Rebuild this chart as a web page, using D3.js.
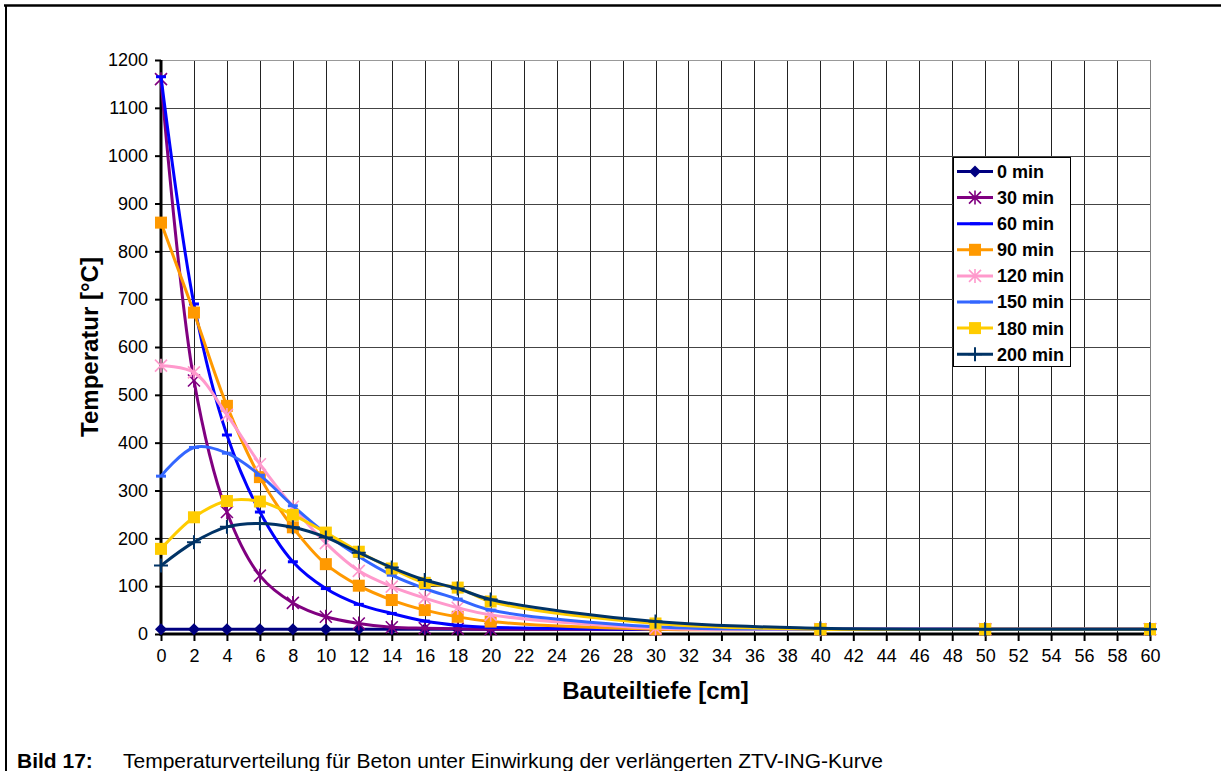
<!DOCTYPE html>
<html><head><meta charset="utf-8">
<script src="https://cdn.jsdelivr.net/npm/d3@7"></script>
<style>
body{margin:0;background:#fff;}
svg{display:block;font-family:Arial,"Liberation Sans",sans-serif;}
</style></head>
<body><svg id="c" width="1221" height="771"></svg>
<script>
const depths = [0,2,4,6,8,10,12,14,16,18,20,30,40,50,60];
const xTicks = d3.range(0,61,2);
const yTicks = d3.range(0,1201,100);
const seriesNames = ["0 min","30 min","60 min","90 min","120 min","150 min","180 min","200 min"];
const t0   = [10,10,10,10,10,10,10,10,10,10,10,10,10,10,10];
const t30  = [1160,530,255,122,65,36,22,14,12,11,10,10,10,10,10];
const t60  = [1165,690,416,255,151,95,62,43,27,18,14,10,10,10,10];
const t90  = [860,672,477,328,223,146,101,71,50,36,26,10,10,10,10];
const t120 = [561,547,458,355,266,190,132,99,75,55,40,12,10,10,10];
const t150 = [330,390,378,332,268,210,162,123,95,73,50,15,10,10,10];
const t180 = [178,244,278,277,249,212,172,137,107,97,68,22,10,10,10];
const t200 = [143,192,224,231,223,202,170,139,113,95,72,26,12,10,10];
const seriesValues = [t0,t30,t60,t90,t120,t150,t180,t200];
const colors = ["#000080","#800080","#0000FF","#FF9900","#FF99CC","#3366FF","#FFCC00","#003366"];
const markers = ["diamond","star","dash","square","star","dash","square","plus"];
const xTitle = "Bauteiltiefe [cm]";
const yTitle = "Temperatur [°C]";
const captionBold = "Bild 17:";
const captionText = "Temperaturverteilung für Beton unter Einwirkung der verlängerten ZTV-ING-Kurve";

const svg = d3.select("#c");
const L=161, R=1150, T=60, B=634;
const x = d3.scaleLinear().domain([0,60]).range([L,R]);
const y = d3.scaleLinear().domain([0,1200]).range([B,T]);

// outer frame
svg.append("line").attr("x1",4).attr("x2",1221).attr("y1",5.5).attr("y2",5.5).attr("stroke","#000").attr("stroke-width",2.5);
svg.append("line").attr("x1",6).attr("x2",6).attr("y1",5).attr("y2",771).attr("stroke","#000").attr("stroke-width",2);

// gridlines
const g = svg.append("g");
g.selectAll(".vg").data(xTicks.slice(1)).join("line")
  .attr("x1",d=>Math.round(x(d))+0.5).attr("x2",d=>Math.round(x(d))+0.5).attr("y1",T).attr("y2",B)
  .attr("stroke",(d)=>d===60?"#808080":"#222").attr("stroke-width",1);
g.selectAll(".hg").data(yTicks.slice(1)).join("line")
  .attr("x1",L).attr("x2",R).attr("y1",d=>Math.round(y(d))+0.5).attr("y2",d=>Math.round(y(d))+0.5)
  .attr("stroke",(d)=>d===1200?"#999":"#444").attr("stroke-width",1);

// axes (ticks + labels)
const yAxis = d3.axisLeft(y).tickValues(yTicks).tickFormat(d3.format("d")).tickSize(6).tickPadding(7);
const ya = svg.append("g").attr("transform",`translate(${L},0)`).call(yAxis);
ya.select(".domain").remove();
ya.selectAll(".tick line").attr("stroke","#000").attr("stroke-width",2);
ya.selectAll("text").attr("font-size",18).attr("fill","#000").attr("font-family","Arial,'Liberation Sans',sans-serif");

const xAxis = d3.axisBottom(x).tickValues(xTicks).tickFormat(d3.format("d")).tickSize(7).tickPadding(8);
const xa = svg.append("g").attr("transform",`translate(0,${B})`).call(xAxis);
xa.select(".domain").remove();
xa.selectAll(".tick line").attr("stroke","#000").attr("stroke-width",2);
xa.selectAll("text").attr("font-size",18).attr("fill","#000").attr("font-family","Arial,'Liberation Sans',sans-serif");

// axis lines
svg.append("line").attr("x1",L).attr("x2",L).attr("y1",T).attr("y2",B+1.5).attr("stroke","#000").attr("stroke-width",3);
svg.append("line").attr("x1",L-1.5).attr("x2",R+1).attr("y1",B).attr("y2",B).attr("stroke","#000").attr("stroke-width",3);

// marker drawing
function drawMarker(sel, type, color){
  if(type==="diamond"){
    sel.append("path").attr("d","M0,-6L6,0L0,6L-6,0Z").attr("fill",color);
  } else if(type==="square"){
    sel.append("rect").attr("x",-6).attr("y",-6).attr("width",12).attr("height",12).attr("fill",color);
  } else if(type==="star"){
    sel.append("path").attr("d","M-6,-6L6,6M-6,6L6,-6M0,-7V7").attr("stroke",color).attr("stroke-width",1.6).attr("fill","none");
  } else if(type==="plus"){
    sel.append("path").attr("d","M-7,0H7M0,-7V7").attr("stroke",color).attr("stroke-width",2).attr("fill","none");
  } else if(type==="dash"){
    sel.append("path").attr("d","M-5,0H5").attr("stroke",color).attr("stroke-width",3).attr("fill","none");
  }
}

const line = d3.line().x((d,i)=>x(depths[i])).y(d=>y(d)).curve(d3.curveCatmullRom.alpha(0.5));
const plot = svg.append("g");
seriesValues.forEach((vals,si)=>{
  const sg = plot.append("g");
  sg.append("path").attr("d",line(vals)).attr("fill","none").attr("stroke",colors[si]).attr("stroke-width",3);
  vals.forEach((v,i)=>{
    const m = sg.append("g").attr("transform",`translate(${x(depths[i])},${y(v)})`);
    drawMarker(m, markers[si], colors[si]);
  });
});

// legend
const lg = svg.append("g");
lg.append("rect").attr("x",953.5).attr("y",157.5).attr("width",117).attr("height",209).attr("fill","#fff").attr("stroke","#000").attr("stroke-width",1);
seriesNames.forEach((n,i)=>{
  const cy = 171.5 + i*26.1;
  lg.append("line").attr("x1",957).attr("x2",993).attr("y1",cy).attr("y2",cy).attr("stroke",colors[i]).attr("stroke-width",3);
  const m = lg.append("g").attr("transform",`translate(975,${cy})`);
  drawMarker(m, markers[i], colors[i]);
  lg.append("text").attr("x",997).attr("y",cy).attr("dy","0.36em").attr("font-size",18).attr("font-weight","bold").text(n);
});

// titles
svg.append("text").attr("x",(L+R)/2).attr("y",699).attr("text-anchor","middle").attr("font-size",24).attr("font-weight","bold").text(xTitle);
svg.append("text").attr("transform","translate(98,347) rotate(-90)").attr("text-anchor","middle").attr("font-size",24).attr("font-weight","bold").text(yTitle);

// caption
svg.append("text").attr("x",17).attr("y",768).attr("font-size",21).attr("font-weight","bold").text(captionBold);
svg.append("text").attr("x",123).attr("y",768).attr("font-size",21).text(captionText);
</script></body></html>
